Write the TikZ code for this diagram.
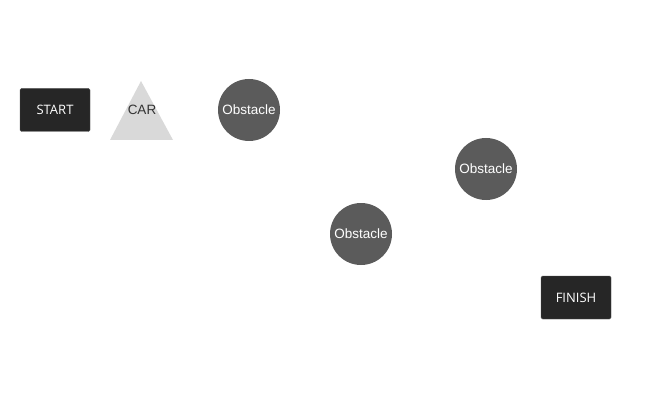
\documentclass[tikz,border=0pt]{standalone}
\usepackage{fontspec}
\setmainfont{Liberation Sans}
\newfontfamily\boxfont{Open Sans}
\usetikzlibrary{shapes.geometric}
\definecolor{boxdark}{HTML}{262626}
\definecolor{cargrey}{HTML}{D9D9D9}
\definecolor{obsgrey}{HTML}{5B5B5B}
\tikzset{
  endbox/.style={fill=boxdark, draw=boxdark!80!white, line width=0.4pt, rounded corners=1.5pt, minimum width=70pt, minimum height=43pt, inner sep=0pt, text=white, font=\boxfont\fontsize{13}{15}\selectfont},
  obstacle/.style={circle, fill=obsgrey, minimum size=62pt, inner sep=0pt, text=white, font=\fontsize{13.5}{15}\selectfont},
  carlabel/.style={text=black!80, font=\fontsize{13.5}{15}\selectfont, inner sep=0pt}
}
\begin{document}
\begin{tikzpicture}[x=1pt,y=-1pt]
\useasboundingbox (0,0) rectangle (666,406);
\node[endbox] (start) at (55,110) {START};
\fill[cargrey] (141,81) -- (173,140) -- (110,140) -- cycle;
\node[carlabel] (car) at (142,110) {CAR};
\node[obstacle] (obs1) at (249,110) {Obstacle};
\node[obstacle] (obs2) at (486,169) {Obstacle};
\node[obstacle] (obs3) at (361,234) {Obstacle};
\node[endbox] (finish) at (576,297.5) {FINISH};
\end{tikzpicture}
\end{document}
